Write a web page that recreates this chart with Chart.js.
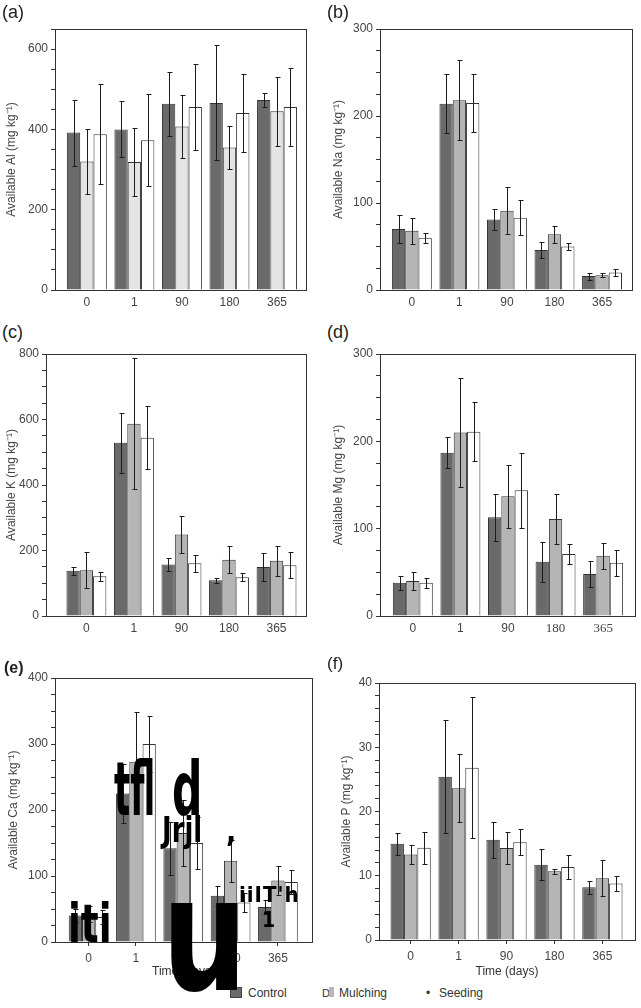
<!DOCTYPE html>
<html>
<head>
<meta charset="utf-8">
<script src="https://cdn.jsdelivr.net/npm/chart.js@4.4.0/dist/chart.umd.min.js"></script>
<style>
  html, body { margin: 0; padding: 0; background: #fff; }
  body { width: 641px; height: 1008px; position: relative; overflow: hidden; font-family: 'Liberation Sans', Arial, sans-serif; }
  canvas { position: absolute; }
  .tag { position: absolute; font-size: 18px; line-height: 1; color: #222; }
  .leg { position: absolute; font-size: 12px; line-height: 1; color: #333; }
  .sw { position: absolute; box-sizing: border-box; border: 1px solid #444; }
  .ocr { position: absolute; font-family: 'DejaVu Sans Condensed', 'DejaVu Sans', sans-serif; font-weight: bold; line-height: 1; color: #000; transform-origin: 0 0; white-space: pre; }
</style>
</head>
<body>
<canvas id="cA" width="316" height="297" style="left:0px;top:18px"></canvas>
<canvas id="cB" width="314" height="297" style="left:327px;top:18px"></canvas>
<canvas id="cC" width="316" height="299" style="left:0px;top:342px"></canvas>
<canvas id="cD" width="314" height="299" style="left:327px;top:342px"></canvas>
<canvas id="cE" width="320" height="319" style="left:2px;top:664px"></canvas>
<canvas id="cF" width="306" height="315" style="left:335px;top:668px"></canvas>

<div class="tag" style="left:2px;top:3px">(a)</div>
<div class="tag" style="left:327px;top:3px">(b)</div>
<div class="tag" style="left:2px;top:323px">(c)</div>
<div class="tag" style="left:327px;top:323px">(d)</div>
<div class="tag" style="left:4px;top:660px;font-size:16px;font-weight:bold">(e)</div>
<div class="tag" style="left:327px;top:655px;font-size:17px">(f)</div>

<div class="sw" style="left:230px;top:987px;width:12px;height:11px;background:#6a6a6a"></div>
<div class="leg" style="left:248px;top:987px">Control</div>
<div class="leg" style="left:322px;top:988px;font-size:11px">D</div>
<div class="sw" style="left:329px;top:987px;width:5px;height:10px;background:#b8b8b8;border:none"></div>
<div class="leg" style="left:339px;top:987px">Mulching</div>
<div class="leg" style="left:426px;top:987px">•</div>
<div class="leg" style="left:439px;top:987px">Seeding</div>

<div class="ocr" style="left:114px;top:752px;font-size:75px;transform:scaleX(0.5)">tfl</div>
<div class="ocr" style="left:172px;top:752px;font-size:75px;transform:scaleX(0.63)">d</div>
<div class="ocr" style="left:162px;top:812px;font-size:36px;transform:scaleX(0.8)">Jrjl</div>
<div class="ocr" style="left:226px;top:817px;font-size:30px">,</div>
<div class="ocr" style="left:68px;top:897px;font-size:54px;transform:scaleX(0.77)">iti</div>
<div class="ocr" style="left:162px;top:856px;font-size:158px;transform:scaleX(0.84)">u</div>
<div class="ocr" style="left:239px;top:884px;font-size:22px;letter-spacing:1px">iiIT'h</div>
<div class="ocr" style="left:262px;top:910px;font-size:21px">1</div>

<script>
const days = ['0', '1', '90', '180', '365'];

// (a) available Al
const alControl = [392, 400, 464, 466, 473];
const alControlErr = [82, 70, 80, 143, 18];
const alMulching = [320, 319, 407, 355, 445];
const alMulchingErr = [80, 84, 78, 54, 86];
const alSeeding = [388, 373, 456, 441, 456];
const alSeedingErr = [125, 114, 108, 97, 98];

// (b) available Na
const naControl = [70, 214, 81, 46, 16];
const naControlErr = [16, 34, 12, 9, 4];
const naMulching = [68, 218, 91, 64, 17];
const naMulchingErr = [15, 46, 27, 10, 2];
const naSeeding = [60, 215, 83, 50, 20];
const naSeedingErr = [6, 33, 20, 4, 4];

// (c) available K
const kControl = [138, 529, 157, 109, 150];
const kControlErr = [12, 92, 21, 8, 43];
const kMulching = [140, 587, 249, 172, 169];
const kMulchingErr = [56, 200, 57, 42, 46];
const kSeeding = [121, 544, 161, 118, 155];
const kSeedingErr = [14, 96, 26, 12, 39];

// (d) available Mg
const mgControl = [38, 187, 113, 62, 48];
const mgControlErr = [8, 18, 27, 23, 15];
const mgMulching = [40, 210, 137, 111, 69];
const mgMulchingErr = [10, 62, 36, 29, 15];
const mgSeeding = [38, 211, 144, 71, 61];
const mgSeedingErr = [6, 34, 43, 11, 15];

// (e) available Ca
const caControl = [40, 225, 142, 70, 53];
const caControlErr = [10, 45, 40, 15, 10];
const caMulching = [42, 273, 165, 123, 93];
const caMulchingErr = [12, 76, 50, 32, 22];
const caSeeding = [38, 300, 150, 60, 91];
const caSeedingErr = [10, 43, 40, 15, 18];

// (f) available P
const pControl = [15.0, 25.4, 15.6, 11.7, 8.2];
const pControlErr = [1.7, 8.8, 2.8, 2.4, 1.0];
const pMulching = [13.3, 23.6, 14.3, 10.7, 9.6];
const pMulchingErr = [1.5, 5.3, 2.5, 0.4, 2.8];
const pSeeding = [14.35, 26.8, 15.2, 11.35, 8.8];
const pSeedingErr = [2.5, 11.0, 2.0, 1.85, 1.15];

const ink = '#333';
const tickFont = { family: "'Liberation Sans', Arial, sans-serif", size: 12 };

// error bars + box around the plot
const errorBars = {
  id: 'errorBars',
  afterDatasetsDraw(chart) {
    const ctx = chart.ctx;
    const y = chart.scales.y;
    ctx.save();
    ctx.strokeStyle = '#1c1c1c';
    ctx.lineWidth = 1;
    chart.data.datasets.forEach((ds, di) => {
      chart.getDatasetMeta(di).data.forEach((bar, i) => {
        const v = ds.data[i].y, e = ds.errors[i];
        const x = Math.round(bar.x) + 0.5;
        const top = Math.round(y.getPixelForValue(v + e)) + 0.5;
        const bot = Math.round(y.getPixelForValue(Math.max(v - e, 0))) + 0.5;
        ctx.beginPath();
        ctx.moveTo(x, top); ctx.lineTo(x, bot);
        ctx.moveTo(x - 2, top); ctx.lineTo(x + 3, top);
        ctx.moveTo(x - 2, bot); ctx.lineTo(x + 3, bot);
        ctx.stroke();
      });
    });
    const a = chart.chartArea;
    ctx.strokeStyle = ink;
    ctx.strokeRect(Math.round(a.left) + 0.5, Math.round(a.top) + 0.5,
      Math.round(a.right - a.left), Math.round(a.bottom - a.top));
    ctx.restore();
  }
};

function series(vals) {
  return vals.map((v, i) => ({ x: i, y: v }));
}

function makeChart(id, p) {
  const canvas = document.getElementById(id);
  const bx = canvas.offsetLeft, by = canvas.offsetTop;
  const yAxisW = p.area[0] - bx;
  const padTop = p.area[1] - by;
  const padRight = bx + canvas.width - p.area[2];
  const xAxisH = by + canvas.height - p.area[3];

  const mk = (label, vals, errs, color) => ({
    label: label,
    data: series(vals),
    errors: errs,
    backgroundColor: color,
    borderColor: ink,
    borderWidth: 1,
    categoryPercentage: 0.84,
    barPercentage: 1.0,
  });

  new Chart(canvas.getContext('2d'), {
    type: 'bar',
    data: {
      datasets: [
        mk('Control', p.ctrl[0], p.ctrl[1], '#6a6a6a'),
        mk('Mulching', p.mulch[0], p.mulch[1], p.mulchColor || '#b5b5b5'),
        mk('Seeding', p.seed[0], p.seed[1], '#ffffff'),
      ]
    },
    options: {
      responsive: false,
      animation: false,
      layout: { padding: { left: 0, top: padTop, right: padRight, bottom: 0 } },
      plugins: { legend: { display: false }, tooltip: { enabled: false } },
      scales: {
        x: {
          type: 'linear',
          offset: false,
          min: p.xRange[0],
          max: p.xRange[1],
          afterBuildTicks: axis => { axis.ticks = days.map((d, i) => ({ value: i })); },
          afterFit: s => { s.height = xAxisH; },
          grid: { offset: false, drawOnChartArea: false, drawTicks: !!p.xTicks, tickLength: 4, color: ink },
          border: { color: ink },
          ticks: {
            autoSkip: false,
            maxRotation: 0,
            padding: 5,
            color: '#444',
            font: p.xFont || tickFont,
            callback: v => days[v],
          },
          title: {
            display: !!p.xTitle,
            text: p.xTitle || '',
            color: '#333',
            font: { family: "'Liberation Sans', Arial, sans-serif", size: 12 },
          },
        },
        y: {
          min: 0,
          max: p.yMax,
          afterFit: s => { s.width = yAxisW; },
          grid: { drawOnChartArea: false, tickLength: 4, color: ink },
          border: { color: ink },
          ticks: {
            stepSize: p.yStep,
            autoSkip: false,
            padding: 3,
            color: '#444',
            font: tickFont,
            callback: v => (v % p.yMajor === 0 ? String(v) : ''),
          },
          title: {
            display: true,
            text: p.yTitle,
            color: '#444',
            font: { family: "'Liberation Sans', Arial, sans-serif", size: 12 },
          },
        },
      },
    },
    plugins: [errorBars],
  });
}

makeChart('cA', {
  area: [55, 29, 306, 290], xRange: [-0.67, 4.61],
  yMax: 650, yStep: 50, yMajor: 200, yTitle: 'Available Al (mg kg⁻¹)',
  ctrl: [alControl, alControlErr], mulch: [alMulching, alMulchingErr], seed: [alSeeding, alSeedingErr],
  mulchColor: '#e4e4e4',
});

makeChart('cB', {
  area: [380, 29, 632, 290], xRange: [-0.67, 4.63],
  yMax: 300, yStep: 25, yMajor: 100, yTitle: 'Available Na (mg kg⁻¹)',
  ctrl: [naControl, naControlErr], mulch: [naMulching, naMulchingErr], seed: [naSeeding, naSeedingErr],
});

makeChart('cC', {
  area: [46, 354, 306, 616], xRange: [-0.85, 4.62],
  yMax: 800, yStep: 50, yMajor: 200, yTitle: 'Available K (mg kg⁻¹)',
  ctrl: [kControl, kControlErr], mulch: [kMulching, kMulchingErr], seed: [kSeeding, kSeedingErr],
});

makeChart('cD', {
  area: [380, 354, 635, 616], xRange: [-0.69, 4.67],
  yMax: 300, yStep: 25, yMajor: 100, yTitle: 'Available Mg (mg kg⁻¹)',
  ctrl: [mgControl, mgControlErr], mulch: [mgMulching, mgMulchingErr], seed: [mgSeeding, mgSeedingErr],
  xFont: ctx => (ctx.index >= 3
    ? { family: "'Liberation Serif', serif", size: 13 }
    : tickFont),
});

makeChart('cE', {
  area: [55, 678, 312, 942], xRange: [-0.71, 4.72],
  yMax: 400, yStep: 25, yMajor: 100, yTitle: 'Available Ca (mg kg⁻¹)',
  ctrl: [caControl, caControlErr], mulch: [caMulching, caMulchingErr], seed: [caSeeding, caSeedingErr],
  xTitle: 'Time (days)', xTicks: true,
});

makeChart('cF', {
  area: [379, 683, 635, 940], xRange: [-0.66, 4.68],
  yMax: 40, yStep: 2, yMajor: 10, yTitle: 'Available P (mg kg⁻¹)',
  ctrl: [pControl, pControlErr], mulch: [pMulching, pMulchingErr], seed: [pSeeding, pSeedingErr],
  xTitle: 'Time (days)', xTicks: true,
});
</script>
</body>
</html>
